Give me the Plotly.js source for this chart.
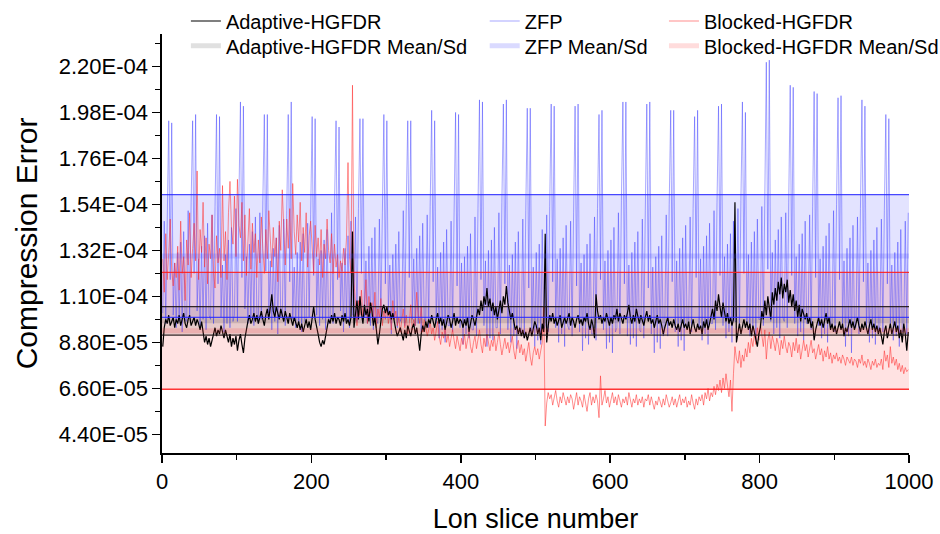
<!DOCTYPE html>
<html>
<head>
<meta charset="utf-8">
<script src="https://cdn.plot.ly/plotly-3.0.1.min.js"></script>
<style>html,body{margin:0;padding:0;background:#fff;}#chart{width:940px;height:534px;}</style>
</head>
<body>
<div id="chart"></div>
<script>
// Values in units of 1e-6 (compression error), sampled at slices 1,3,5,...,999
const seriesNames = ["Adaptive-HGFDR", "ZFP", "Blocked-HGFDR"];
const meanNames = ["Adaptive-HGFDR Mean/Sd", "ZFP Mean/Sd", "Blocked-HGFDR Mean/Sd"];

const adaptive = [
86,95,99,97,101,96,98,100,95,99,
97,101,96,99,102,97,95,99,101,96,
98,100,96,99,97,94,98,92,88,91,
87,90,86,89,93,95,91,94,92,96,
93,90,94,91,88,92,86,90,87,91,
84,89,92,87,83,90,95,98,101,97,
99,102,98,101,97,100,103,99,96,101,
104,99,106,111,103,100,105,102,99,104,
101,98,103,100,97,102,99,96,100,98,
95,98,94,97,93,96,99,95,98,94,
101,105,99,96,92,88,86,89,87,91,
95,99,97,101,98,102,97,100,99,96,
101,98,102,97,99,96,100,141,95,103,
108,99,110,102,97,106,101,104,98,107,
103,96,100,94,87,92,98,104,106,102,
105,101,103,99,102,97,94,91,93,95,
92,89,94,90,96,93,91,95,97,92,
95,90,84,92,96,93,98,95,99,97,
101,98,95,99,102,97,100,96,99,94,
97,101,99,95,98,102,96,100,97,99,
98,95,99,96,100,93,97,101,99,96,
100,104,101,108,103,110,106,114,105,109,
103,107,101,105,99,104,108,102,110,106,
115,107,103,99,102,97,94,96,92,95,
91,94,90,93,89,92,95,91,94,98,
96,92,95,89,97,93,140,88,96,101,
98,102,97,100,96,99,101,95,98,100,
97,99,102,96,100,98,95,99,101,97,
99,96,100,98,102,97,94,99,96,90,
111,103,99,101,97,100,98,102,99,96,
100,97,101,99,104,98,102,100,97,101,
99,102,106,100,97,101,98,104,100,97,
101,99,96,100,103,98,101,97,99,95,
98,101,97,99,96,92,95,98,100,96,
98,95,99,96,94,97,93,96,99,95,
97,94,98,92,96,99,95,93,97,94,
96,92,98,95,99,94,97,101,104,99,
108,103,111,105,100,107,103,98,102,97,
100,96,99,155,88,93,97,92,95,99,
95,98,94,97,91,96,93,89,86,92,
95,103,99,108,101,110,104,99,112,106,
114,108,117,111,119,109,116,112,118,107,
113,105,111,103,108,100,106,98,104,101,
99,102,97,100,95,98,89,94,97,100,
96,99,95,98,102,97,100,94,97,93,
96,92,95,98,94,97,91,95,93,96,
99,95,98,94,97,100,96,93,97,94,
98,95,92,96,99,94,97,93,96,92,
95,91,87,93,96,90,94,97,92,95,
98,93,96,90,94,88,97,92,84,93
];

const zfp = [
102,146,97,150,194,118,193,101,126,95,131,98,136,93,141,99,
98,151,100,155,194,121,197,103,128,96,134,99,139,94,145,101,
99,149,97,153,197,116,196,100,125,93,130,97,137,95,143,98,
101,152,98,158,203,119,201,104,129,97,135,100,141,96,148,102,
97,150,99,156,197,122,197,102,127,94,133,98,138,92,144,100,
100,147,96,151,197,117,203,99,124,95,131,97,136,93,140,98,
98,145,100,149,196,120,195,101,128,96,132,99,137,94,142,97,
99,150,97,155,194,118,191,103,126,93,133,98,139,95,146,101,
101,148,98,152,195,121,195,100,127,97,134,96,138,94,143,99,
97,147,99,150,197,116,194,102,125,92,130,99,135,95,141,98,
100,151,96,154,194,119,194,99,128,96,133,97,139,93,145,100,
98,149,95,153,199,117,194,97,124,90,131,94,136,88,142,96,
96,146,93,150,198,115,197,95,126,87,129,92,134,90,140,94,
94,148,91,152,204,118,203,96,127,86,132,90,137,89,143,95,
95,150,92,155,202,116,204,94,125,88,130,91,136,85,141,93,
93,147,90,151,200,114,200,92,124,86,131,89,135,87,142,94,
96,149,93,153,202,117,201,95,128,88,133,92,138,86,144,96,
94,146,91,150,201,115,202,93,126,84,130,90,135,87,140,92,
92,148,89,152,197,118,199,94,127,85,132,88,137,83,143,93,
95,150,92,156,203,116,203,91,125,87,131,90,136,86,141,94,
93,147,90,151,202,114,203,92,124,83,129,88,134,85,139,91,
94,149,91,154,199,117,199,93,127,86,133,89,138,84,144,95,
96,148,93,152,196,119,199,95,128,89,134,92,139,87,145,97,
97,151,94,155,201,120,202,96,129,90,135,93,140,88,146,98,
98,152,95,156,203,121,198,97,130,91,136,94,141,89,147,99,
99,153,96,158,222,123,223,98,131,92,137,95,142,90,148,100,
98,150,95,155,211,120,210,97,129,91,135,93,140,89,146,97,
97,149,94,153,208,119,207,96,128,90,134,92,139,88,145,96,
96,151,93,154,205,118,206,95,127,86,133,91,138,83,144,95,
95,148,92,152,204,117,201,94,126,88,132,90,137,87,143,94,
96,147,93,151,197,116,195,95,125,89,131,91,136,86,142,93,
94,146,92,150
];

const blocked = [
128,112,140,118,131,147,122,115,126,119,
134,113,146,121,129,108,137,125,150,119,
133,145,127,170,118,142,131,155,124,138,
116,135,128,149,121,114,139,126,133,119,
163,127,141,118,150,165,143,135,158,129,
166,144,138,155,127,149,120,136,152,123,
145,131,140,119,137,126,148,133,121,142,
128,151,136,124,143,129,138,117,146,132,
161,139,125,147,133,152,128,164,141,130,
149,136,155,127,143,131,150,124,139,146,
133,121,144,129,138,125,142,119,135,128,
147,132,126,140,121,135,124,130,119,127,
122,133,125,138,174,129,121,211,117,104,
96,108,101,113,99,105,118,97,110,102,
107,98,112,95,104,100,109,96,103,99,
105,97,102,94,108,99,103,96,100,93,
98,104,95,101,92,97,106,94,99,96,
112,101,97,105,93,99,96,91,94,98,
92,95,89,94,98,91,87,93,90,95,
88,92,86,90,94,89,85,91,88,84,
90,87,92,85,89,93,86,83,88,91,
85,89,94,87,83,90,86,92,88,84,
89,86,91,84,88,93,87,82,86,90,
85,88,83,87,91,84,80,86,89,83,
87,82,85,79,84,88,81,77,83,86,
82,85,80,84,88,105,48,59,64,61,
63,58,61,65,60,57,62,59,64,60,
58,62,59,63,61,56,60,64,58,62,
60,57,63,59,55,61,64,58,62,59,
63,60,52,72,58,61,65,59,62,57,
61,64,59,62,58,63,60,57,61,59,
62,58,64,60,57,61,59,63,58,61,
59,62,57,61,60,63,58,62,59,56,
60,58,62,59,57,61,58,63,60,57,
59,62,58,61,57,60,63,58,61,59,
62,57,60,58,63,59,56,61,58,62,
60,63,58,64,61,66,60,64,62,67,
63,68,65,70,64,71,66,73,68,62,
70,55,73,86,80,78,84,76,82,79,
85,81,88,83,90,86,92,87,95,89,
97,91,86,94,80,89,93,85,91,88,
84,90,87,82,89,85,91,86,83,88,
86,81,88,84,90,83,87,80,85,89,
84,87,81,86,89,83,85,80,84,87,
82,85,79,84,81,86,80,83,78,82,
80,83,79,81,78,82,80,77,81,79,
78,81,77,80,79,76,80,78,82,77,
79,76,80,78,75,79,77,80,76,78,
77,80,75,84,79,82,76,86,78,81,
77,80,75,78,74,77,73,76,74,75
];

const meanVals = [98.3, 129.35, 93.55];
const sdVals = [6.8, 29.35, 27.95];

const yTickVals = [44, 66, 88, 110, 132, 154, 176, 198, 220];
const yTickText = ["4.40E-05","6.60E-05","8.80E-05","1.10E-04","1.32E-04","1.54E-04","1.76E-04","1.98E-04","2.20E-04"];
const yMinorVals = [55, 77, 99, 121, 143, 165, 187, 209, 231];
const xTickVals = [0, 200, 400, 600, 800, 1000];
const xMinorVals = [100, 300, 500, 700, 900];
const xRange = [0, 1000];

const U = 1e-6;
const sc = a => a.map(v => v * U);
const slices = adaptive.map((_, i) => 2 * i + 1);

const lineCols = ["#000000", "rgba(60,60,255,0.45)", "rgba(255,50,50,0.55)"];
const lineW = [1.2, 1, 1];
const fillCols = ["rgba(60,30,30,0.12)", "rgba(60,60,255,0.14)", "rgba(255,60,60,0.15)"];
const edgeCols = ["rgba(30,20,20,0.9)", "rgba(40,40,255,0.85)", "rgba(255,30,30,0.9)"];
const meanCols = ["rgba(0,0,0,0.12)", "rgba(70,70,255,0.2)", "rgba(255,60,60,0.18)"];
const seriesLegend = ["legend", "legend2", "legend3"];
const meanLegend = ["legend4", "legend5", "legend6"];
const dataSets = [adaptive, zfp, blocked];

const traces = [];
const bandOrder = [1, 2, 0];
bandOrder.forEach(k => {
  const up = meanVals[k] + sdVals[k], lo = meanVals[k] - sdVals[k];
  traces.push({x: xRange, y: sc([up, up]), mode: 'lines', line: {width: 0, color: 'rgba(0,0,0,0)'}, showlegend: false, hoverinfo: 'skip'});
  traces.push({x: xRange, y: sc([lo, lo]), mode: 'lines', line: {width: 0, color: 'rgba(0,0,0,0)'}, fill: 'tonexty', fillcolor: fillCols[k], showlegend: false, hoverinfo: 'skip'});
});
bandOrder.forEach(k => {
  traces.push({x: slices, y: sc(dataSets[k]), mode: 'lines', name: seriesNames[k],
    line: {width: lineW[k], color: lineCols[k]}, legend: seriesLegend[k], hoverinfo: 'skip'});
});
bandOrder.forEach(k => {
  traces.push({x: xRange, y: sc([meanVals[k], meanVals[k]]), mode: 'lines', name: meanNames[k],
    line: {width: 5, color: meanCols[k]}, legend: meanLegend[k], hoverinfo: 'skip'});
});
bandOrder.forEach(k => {
  const up = meanVals[k] + sdVals[k], lo = meanVals[k] - sdVals[k];
  traces.push({x: xRange, y: sc([up, up]), mode: 'lines', line: {width: 1.3, color: edgeCols[k]}, showlegend: false, hoverinfo: 'skip'});
  traces.push({x: xRange, y: sc([lo, lo]), mode: 'lines', line: {width: 1.3, color: edgeCols[k]}, showlegend: false, hoverinfo: 'skip'});
});

const FONT = 'Liberation Sans, Arial, sans-serif';
const legBase = {yanchor: 'middle', xanchor: 'left', bgcolor: 'rgba(0,0,0,0)', borderwidth: 0,
  font: {family: FONT, size: 20, color: '#000'}, itemwidth: 30, tracegroupgap: 0, traceorder: 'normal'};
const legX = [0.032, 0.432, 0.672];
const legY = [1.031, 0.972];

const layout = {
  width: 940, height: 534,
  margin: {l: 162, r: 31, t: 34, b: 81, autoexpand: false},
  paper_bgcolor: '#fff', plot_bgcolor: '#fff',
  font: {family: FONT, color: '#000'},
  showlegend: true,
  legend: Object.assign({}, legBase, {x: legX[0], y: legY[0]}),
  legend2: Object.assign({}, legBase, {x: legX[1], y: legY[0]}),
  legend3: Object.assign({}, legBase, {x: legX[2], y: legY[0]}),
  legend4: Object.assign({}, legBase, {x: legX[0], y: legY[1]}),
  legend5: Object.assign({}, legBase, {x: legX[1], y: legY[1]}),
  legend6: Object.assign({}, legBase, {x: legX[2], y: legY[1]}),
  xaxis: {
    range: [xRange[0], xRange[1]], showline: true, linecolor: '#000', linewidth: 1.6,
    ticks: 'outside', ticklen: 8, tickwidth: 1.6, tickcolor: '#000',
    tickmode: 'array', tickvals: xTickVals, ticktext: xTickVals.map(String),
    minor: {tickmode: 'array', tickvals: xMinorVals, ticks: 'outside', ticklen: 5, tickwidth: 1.4, tickcolor: '#000', showgrid: false},
    showgrid: false, zeroline: false, automargin: false,
    tickfont: {family: FONT, size: 22, color: '#000'},
    title: {text: 'Lon slice number', font: {family: FONT, size: 27, color: '#000'}, standoff: 16}
  },
  yaxis: {
    range: [35.1 * U, 235.5 * U], showline: true, linecolor: '#000', linewidth: 1.6,
    ticks: 'outside', ticklen: 8, tickwidth: 1.6, tickcolor: '#000',
    tickmode: 'array', tickvals: sc(yTickVals), ticktext: yTickText,
    minor: {tickmode: 'array', tickvals: sc(yMinorVals), ticks: 'outside', ticklen: 5, tickwidth: 1.4, tickcolor: '#000', showgrid: false},
    showgrid: false, zeroline: false, automargin: false,
    tickfont: {family: FONT, size: 22, color: '#000'},
    title: {text: 'Compression Error', font: {family: FONT, size: 30, color: '#000'}, standoff: 12}
  }
};

Plotly.newPlot('chart', traces, layout, {displayModeBar: false, staticPlot: true});
</script>
</body>
</html>
